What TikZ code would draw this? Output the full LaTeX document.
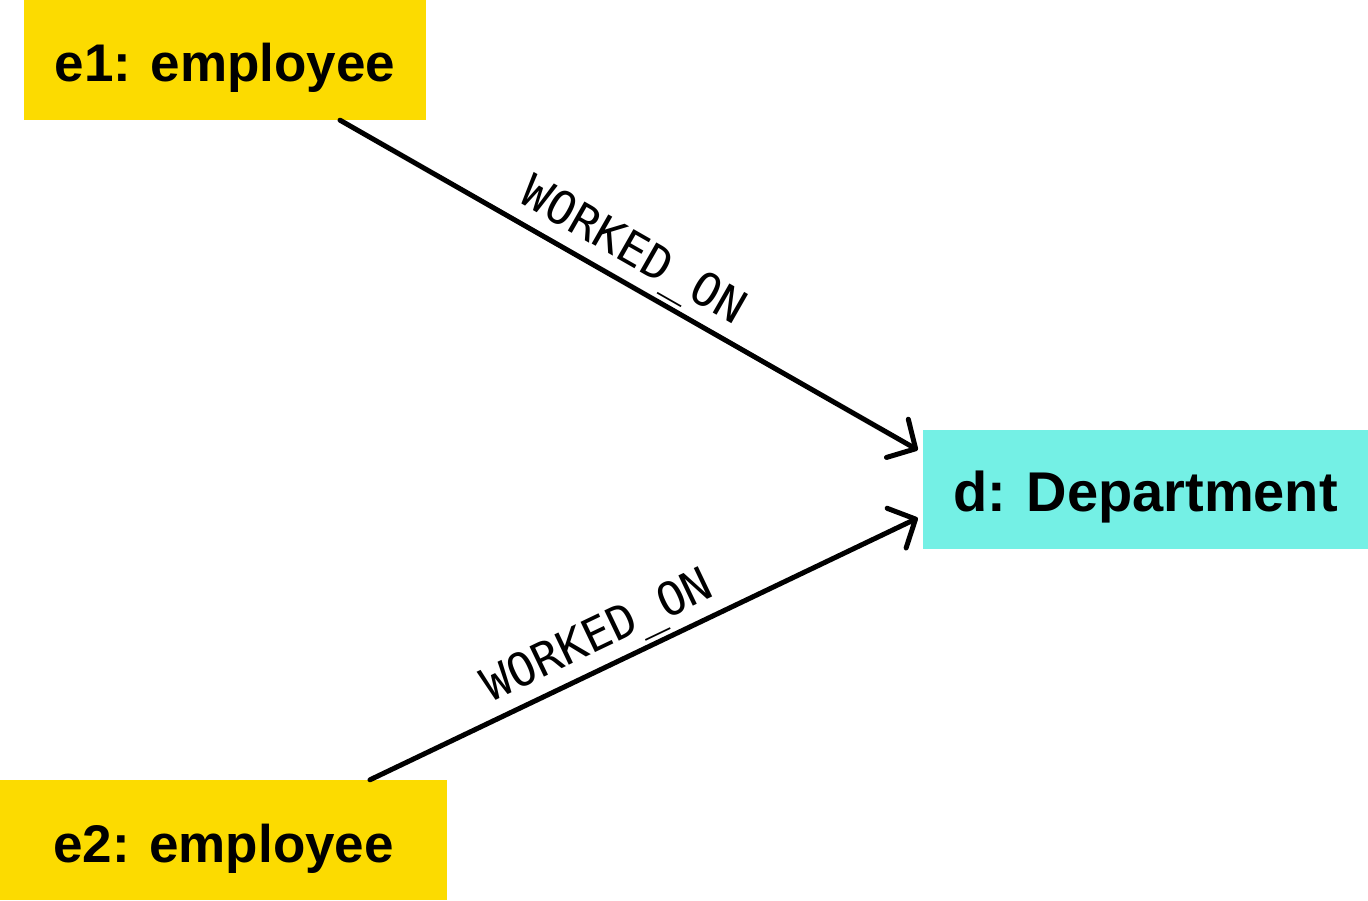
\documentclass[tikz,border=0pt]{standalone}
\usepackage{fontspec}
\setmainfont{Liberation Sans}
\newfontfamily\relfont{DejaVu Sans Mono}
\usetikzlibrary{arrows.meta}
\definecolor{empyellow}{RGB}{252,219,0}
\definecolor{deptcyan}{RGB}{116,240,229}

\begin{document}
\begin{tikzpicture}[x=1pt, y=1pt,
every node/.style={inner sep=0pt, font=\fontsize{53}{53}\selectfont\bfseries},
entity/.style={minimum height=120pt, text height=44pt, text depth=0pt},
rel/.style={line width=5pt, line cap=round,
    -{Straight Barb[length=21pt,width=44pt,line cap=round,line join=round]}},
rellabel/.style={font=\relfont\fontsize{46}{46}\selectfont, sloped, above=4pt}
]
\useasboundingbox (0,0) rectangle (1368,900);

\node (e1) [entity, fill=empyellow, minimum width=402pt] at (225,840) {e1: employee};
\node (e2) [entity, fill=empyellow, minimum width=447pt] at (223.5,60) {e2: employee};
\node (d)  [entity, fill=deptcyan, minimum width=445pt, minimum height=119pt,
    font=\fontsize{56}{56}\selectfont\bfseries] at (1145.5,410.5) {d: Department};

\coordinate (e1out) at ([xshift=115pt]e1.south);
\coordinate (e2out) at ([xshift=146.5pt]e2.north);
\coordinate (din1) at ([xshift=-5pt,yshift=39.5pt]d.west);
\coordinate (din2) at ([xshift=-5pt,yshift=-28.5pt]d.west);

\foreach \a/\b/\p in {e1out/din1/0.48, e2out/din2/0.44}
    \draw [rel] (\a) -- node [rellabel, pos=\p] {WORKED\_ON} (\b);
\end{tikzpicture}
\end{document}
